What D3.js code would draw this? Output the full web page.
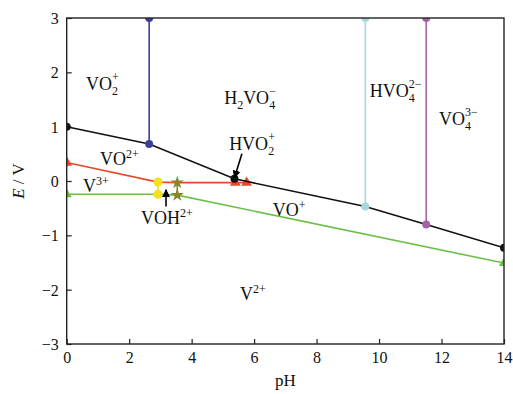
<!DOCTYPE html>
<html><head><meta charset="utf-8">
<script src="https://cdn.jsdelivr.net/npm/d3@7"></script>
<style>body{margin:0;background:#fff}svg{display:block}</style>
</head><body><svg id="c" width="513" height="394"></svg>
<script>
// ---- data ----
const xTicks = [0,2,4,6,8,10,12,14];
const yTicks = [-3,-2,-1,0,1,2,3];
const blackPH = [0, 2.64, 5.37, 9.56, 11.51, 14];
const blackE  = [1.0, 0.68, 0.04, -0.47, -0.80, -1.23];
const redPH   = [0, 2.92, 3.54, 5.40, 5.76];
const redE    = [0.34, -0.02, -0.03, -0.03, -0.03];
const greenPH = [0, 2.92, 3.54, 14];
const greenE  = [-0.245, -0.245, -0.26, -1.51];
const bluePH = [2.64, 2.64],   blueE = [0.68, 3];
const cyanPH = [9.56, 9.56],   cyanE = [-0.47, 3];
const purplePH = [11.51, 11.51], purpleE = [-0.80, 3];
const yellowPH = [2.92, 2.92], yellowE = [-0.02, -0.245];
const olivePH = [3.54, 3.54],  oliveE = [-0.03, -0.26];

const W = 513, H = 394;
const m = {l: 66.7, r: 9, t: 18, b: 50};
const svg = d3.select("#c");
const x = d3.scaleLinear().domain([0,14]).range([m.l, W - m.r]);
const y = d3.scaleLinear().domain([-3,3]).range([H - m.b, m.t]);
const font = "'Liberation Serif','Times New Roman',serif";

svg.append("clipPath").attr("id","clip").append("rect")
  .attr("x", m.l).attr("y", m.t).attr("width", W-m.l-m.r).attr("height", H-m.t-m.b);

// axes
const xa = svg.append("g").attr("transform", `translate(0,${H-m.b})`)
  .call(d3.axisBottom(x).tickValues(xTicks).tickSize(-5).tickPadding(8).tickFormat(d3.format("d")));
const ya = svg.append("g").attr("transform", `translate(${m.l},0)`)
  .call(d3.axisLeft(y).tickValues(yTicks).tickSize(-5).tickPadding(8)
    .tickFormat(d => d < 0 ? "\u2212" + Math.abs(d) : d));
[xa, ya].forEach(a => {
  a.select(".domain").remove();
  a.selectAll("line").attr("stroke","#222").attr("stroke-width",1.2);
  a.selectAll("text").attr("font-family", font).attr("font-size", 16).attr("fill","#111");
});
ya.selectAll("text").attr("dy","0.35em");

const plot = svg.append("g").attr("clip-path","url(#clip)");

function series(ph, e, color, sym, size, markIdx){
  const pts = ph.map((p,i)=>[x(p), y(e[i])]);
  plot.append("path").attr("d", d3.line()(pts)).attr("fill","none")
    .attr("stroke", color).attr("stroke-width", 1.6);
  (markIdx || pts.map((_,i)=>i)).forEach(i=>{
    plot.append("path").attr("d", d3.symbol(sym, size)())
      .attr("transform", `translate(${pts[i][0]},${pts[i][1]})`).attr("fill", color);
  });
}
series(greenPH, greenE, "#6cc04a", d3.symbolTriangle, 45, [0,3]);
series(redPH, redE, "#e8472c", d3.symbolTriangle, 50, [0,3,4]);
series(blackPH, blackE, "#111111", d3.symbolCircle, 50, [0,2,5]);
series(bluePH, blueE, "#3b3f9c", d3.symbolCircle, 50);
series(cyanPH, cyanE, "#a9d8dc", d3.symbolCircle, 50);
series(purplePH, purpleE, "#a263a8", d3.symbolCircle, 50);
series(yellowPH, yellowE, "#f4e01c", d3.symbolCircle, 65);
series(olivePH, oliveE, "#86862a", d3.symbolStar, 55);

// frame
svg.append("rect").attr("x", m.l).attr("y", m.t).attr("width", W-m.l-m.r).attr("height", H-m.t-m.b)
  .attr("fill","none").attr("stroke","#222").attr("stroke-width",1.4);

// arrows
const defs = svg.append("defs");
defs.append("marker").attr("id","ah").attr("viewBox","0 0 10 10").attr("refX",9).attr("refY",5)
  .attr("markerWidth",5).attr("markerHeight",6).attr("orient","auto-start-reverse")
  .append("path").attr("d","M0,0L10,5L0,10z").attr("fill","#000");
const arrows = [
  {from:[5.61, 0.50], to:[5.37, 0.06]},
  {from:[3.18, -0.47], to:[3.18, -0.16]}
];
arrows.forEach(a=>{
  svg.append("line").attr("x1", x(a.from[0])).attr("y1", y(a.from[1]))
    .attr("x2", x(a.to[0])).attr("y2", y(a.to[1]))
    .attr("stroke","#000").attr("stroke-width",1.6).attr("marker-end","url(#ah)");
});

// species labels: segments {t, sub, sup}
const labels = [
  {ph:0.62, e:1.67, segs:[{t:"VO", sub:"2", sup:"+"}]},
  {ph:5.04, e:1.42, segs:[{t:"H", sub:"2"},{t:"VO", sub:"4", sup:"\u2212"}]},
  {ph:5.2,  e:0.57, segs:[{t:"HVO", sub:"2", sup:"+"}]},
  {ph:1.07, e:0.29, segs:[{t:"VO", sup:"2+"}]},
  {ph:0.52, e:-0.20, segs:[{t:"V", sup:"3+"}]},
  {ph:2.38, e:-0.79, segs:[{t:"VOH", sup:"2+"}]},
  {ph:6.6,  e:-0.64, segs:[{t:"VO", sup:"+"}]},
  {ph:5.55, e:-2.19, segs:[{t:"V", sup:"2+"}]},
  {ph:9.7,  e:1.55, segs:[{t:"HVO", sub:"4", sup:"2\u2212"}]},
  {ph:11.92, e:1.03, segs:[{t:"VO", sub:"4", sup:"3\u2212"}]}
];
labels.forEach(L=>{
  let cx = x(L.ph); const by = y(L.e);
  L.segs.forEach(s=>{
    const t = svg.append("text").attr("x", cx).attr("y", by).text(s.t)
      .attr("font-family", font).attr("font-size", 18).attr("fill","#111");
    cx += t.node().getComputedTextLength();
    let w = 0;
    if (s.sub){
      const st = svg.append("text").attr("x", cx).attr("y", by + 5).text(s.sub)
        .attr("font-family", font).attr("font-size", 12).attr("fill","#111");
      w = Math.max(w, st.node().getComputedTextLength());
    }
    if (s.sup){
      const pt = svg.append("text").attr("x", cx).attr("y", by - (s.sub ? 9 : 7)).text(s.sup)
        .attr("font-family", font).attr("font-size", 12).attr("fill","#111");
      w = Math.max(w, pt.node().getComputedTextLength());
    }
    cx += w;
  });
});

// axis titles
svg.append("text").attr("x", (m.l + W - m.r)/2).attr("y", 386).attr("text-anchor","middle")
  .attr("font-family", font).attr("font-size", 17).attr("fill","#111").text("pH");
const yt = svg.append("text").attr("transform", `translate(24,${y(0)}) rotate(-90)`)
  .attr("text-anchor","middle").attr("font-family", font).attr("font-size", 17).attr("fill","#111");
yt.append("tspan").attr("font-style","italic").text("E");
yt.append("tspan").text(" / V");
</script></body></html>
